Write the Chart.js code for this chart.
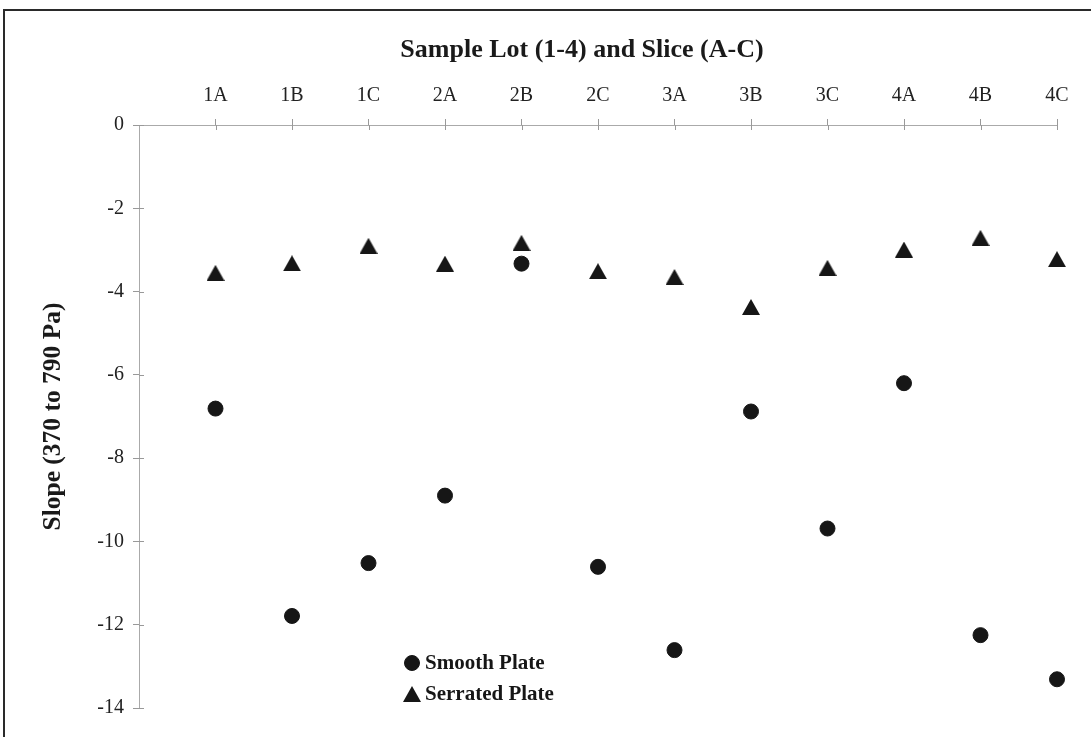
<!DOCTYPE html>
<html><head><meta charset="utf-8">
<script src="https://cdn.jsdelivr.net/npm/chart.js@4.4.1/dist/chart.umd.min.js"></script>
<style>
html,body{margin:0;padding:0;background:#fff;}
#wrap{position:relative;width:1091px;height:737px;overflow:hidden;background:#fff;}
#frame{position:absolute;left:3px;top:9px;width:1200px;height:800px;border-top:2px solid #2a2a2a;border-left:2px solid #2a2a2a;}
canvas{position:absolute;left:0;top:0;}
</style></head><body>
<div id="wrap"><div id="frame"></div><canvas id="c" width="1091" height="737"></canvas></div>
<script>
// ---- data ----
const categories = ['1A','1B','1C','2A','2B','2C','3A','3B','3C','4A','4B','4C'];
const smoothPlate = [-6.81, -11.79, -10.52, -8.90, -3.33, -10.61, -12.61, -6.88, -9.69, -6.20, -12.25, -13.31];
const serratedPlate = [-3.55, -3.32, -2.90, -3.33, -2.83, -3.51, -3.65, -4.37, -3.43, -2.99, -2.71, -3.22];
const yTicks = [0, -2, -4, -6, -8, -10, -12, -14];
const xTitle = 'Sample Lot (1-4) and Slice (A-C)';
const yTitle = 'Slope (370 to 790 Pa)';
const seriesNames = ['Smooth Plate', 'Serrated Plate'];

const INK = '#161616';
const FONT = '"Liberation Serif", "Times New Roman", serif';

function makeTriangle(w, h, color) {
  const c = document.createElement('canvas');
  c.width = w; c.height = h;
  const g = c.getContext('2d');
  g.fillStyle = color;
  g.beginPath();
  g.moveTo(w / 2, 0); g.lineTo(w, h); g.lineTo(0, h); g.closePath();
  g.fill();
  return c;
}
const triangle = makeTriangle(18, 16, INK);

// x-axis title (drawn slightly left of the plot centre, as in the source)
const topTitle = {
  id: 'topTitle',
  afterDraw(chart) {
    const ctx = chart.ctx;
    const area = chart.chartArea;
    ctx.save();
    ctx.font = 'bold 26px ' + FONT;
    ctx.fillStyle = '#1a1a1a';
    ctx.textAlign = 'center';
    ctx.textBaseline = 'middle';
    ctx.fillText(xTitle, area.left + 443, 50);
    ctx.restore();
  }
};

// cross-style tick marks (inner half)
const crossTicks = {
  id: 'crossTicks',
  afterDraw(chart) {
    const ctx = chart.ctx;
    const a = chart.chartArea;
    const xs = chart.scales.x, ys = chart.scales.y;
    ctx.save();
    ctx.strokeStyle = '#999';
    ctx.lineWidth = 1;
    ctx.beginPath();
    xs.ticks.forEach(t => { const px = Math.round(xs.getPixelForValue(t.value)) + 0.5; ctx.moveTo(px, a.top); ctx.lineTo(px, a.top + 5); });
    ys.ticks.forEach(t => { const py = Math.round(ys.getPixelForValue(t.value)) + 0.5; ctx.moveTo(a.left, py); ctx.lineTo(a.left + 5, py); });
    ctx.stroke();
    ctx.restore();
  }
};

const insideLegend = {
  id: 'insideLegend',
  afterDraw(chart) {
    const ctx = chart.ctx;
    const area = chart.chartArea;
    const x0 = area.left + 273;
    const y0 = area.bottom - 45;
    ctx.save();
    ctx.font = 'bold 21px ' + FONT;
    ctx.fillStyle = INK;
    ctx.textAlign = 'left';
    ctx.textBaseline = 'middle';
    chart.data.datasets.forEach((ds, i) => {
      const y = y0 + i * 31;
      Chart.helpers.drawPoint(ctx, {
        pointStyle: ds.pointStyle, radius: ds.pointRadius, borderWidth: ds.borderWidth, rotation: 0
      }, x0, y);
      ctx.fillStyle = INK;
      ctx.fillText(ds.label, x0 + 13, y + 1);
    });
    ctx.restore();
  }
};

new Chart(document.getElementById('c'), {
  type: 'scatter',
  data: {
    datasets: [
      { label: seriesNames[0], data: smoothPlate.map((v, i) => ({ x: i + 1, y: v })),
        pointStyle: 'circle', pointRadius: 7.5, borderWidth: 1, clip: false,
        backgroundColor: INK, borderColor: INK, showLine: false },
      { label: seriesNames[1], data: serratedPlate.map((v, i) => ({ x: i + 1, y: v })),
        pointStyle: triangle, pointRadius: 9, borderWidth: 0, clip: false,
        backgroundColor: INK, borderColor: INK, showLine: false }
    ]
  },
  options: {
    responsive: false,
    animation: false,
    events: [],
    layout: { padding: { top: 0, left: 0, right: 34, bottom: 29 } },
    plugins: { legend: { display: false }, tooltip: { enabled: false } },
    scales: {
      x: {
        type: 'linear', position: 'top', min: 0, max: categories.length,
        afterBuildTicks: s => { s.ticks = categories.map((c, i) => ({ value: i + 1 })); },
        afterFit: s => { s.height = 125; },
        ticks: { callback: v => categories[v - 1] ?? '', autoSkip: false, maxRotation: 0,
                 font: { family: FONT, size: 20 }, color: '#222', padding: 11 },
        grid: { drawOnChartArea: false, drawTicks: true, tickLength: 6, color: '#999' },
        border: { display: true, color: '#aaa', width: 1 },
        title: { display: false, text: xTitle }
      },
      y: {
        type: 'linear', position: 'left', min: -14, max: 0,
        afterBuildTicks: s => { s.ticks = yTicks.map(v => ({ value: v })); },
        afterFit: s => { s.width = 139; },
        ticks: { callback: v => String(v), font: { family: FONT, size: 20 }, color: '#222', padding: 9 },
        grid: { drawOnChartArea: false, drawTicks: true, tickLength: 6, color: '#999' },
        border: { display: true, color: '#aaa', width: 1 },
        title: { display: true, text: yTitle, color: '#1a1a1a',
                 font: { family: FONT, size: 25.5, weight: 'bold' }, padding: { top: 38, bottom: 0 } }
      }
    }
  },
  plugins: [topTitle, crossTicks, insideLegend]
});
</script>
</body></html>
